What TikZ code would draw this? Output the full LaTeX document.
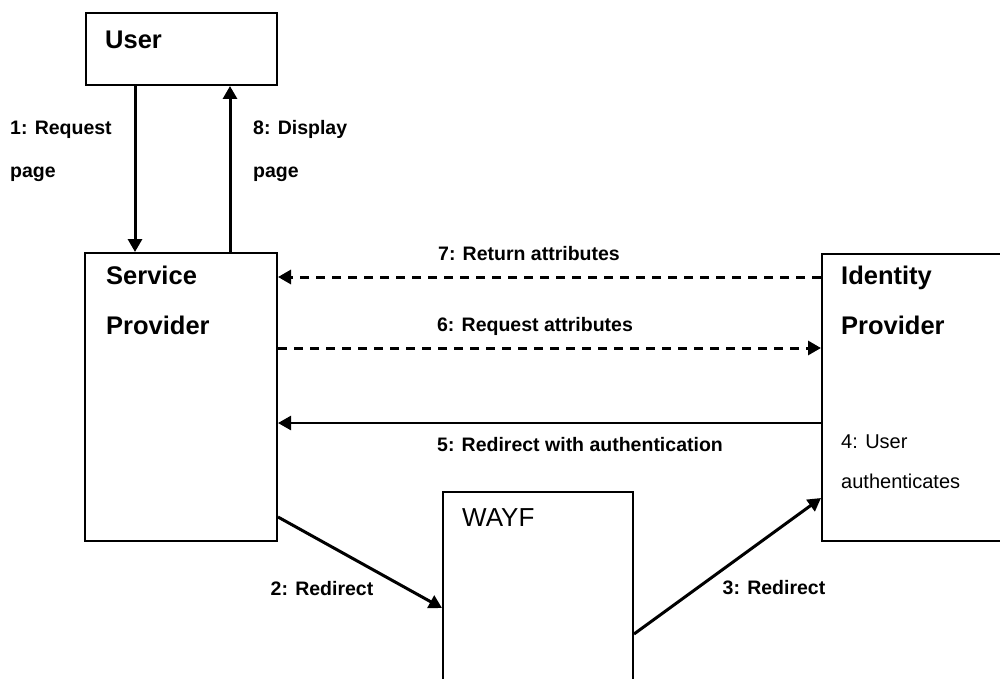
\documentclass[tikz,border=0pt]{standalone}
\usepackage{fontspec}
\setmainfont{Liberation Sans}
\usetikzlibrary{arrows.meta,positioning}

\begin{document}
\begin{tikzpicture}[
  x=1pt, y=-1pt,
  >={Triangle[length=13pt, width=14pt]},
  box/.style   ={draw=black, fill=white, line width=2pt, inner sep=0pt, anchor=north west},
  title/.style ={anchor=west, inner sep=0pt, align=left,
                 font=\fontsize{25.5pt}{50pt}\selectfont\bfseries},
  plain/.style ={anchor=west, inner sep=0pt, align=left,
                 font=\fontsize{20pt}{40pt}\selectfont},
  lbl/.style   ={inner sep=0pt, align=left,
                 font=\fontsize{19.5pt}{43pt}\selectfont\bfseries},
  flow/.style  ={->, draw=black, line width=3pt},
  back/.style  ={->, draw=black, line width=2.5pt},
  call/.style  ={->, draw=black, line width=3pt, dash pattern=on 9pt off 7pt},
]

% ---- page, 1000 x 679 px, boxes cut off at the right and bottom edges ----------
\useasboundingbox (0,0) rectangle (1000,679);
\clip (0,0) rectangle (1000,679);

% ---- the boxes ---------------------------------------------------------------
\node[box, minimum width=191pt, minimum height=72pt]  (user) at (85,12)   {};
\node[box, minimum width=192pt, minimum height=288pt] (sp)   at (84,252)  {};
\node[box, minimum width=200pt, minimum height=287pt] (idp)  at (821,253) {};
\node[box, minimum width=190pt, minimum height=220pt] (wayf) at (442,491) {};

\node[title] (usertxt) at (105,40)  {User};
\node[title] (sptxt)   at (106,300) {Service\\Provider};
\node[title] (idptxt)  at (841,300) {Identity\\Provider};
\node[plain, font=\fontsize{26pt}{30pt}\selectfont] (wayftxt) at (462,518) {WAYF};
\node[plain] (authtxt) at (841,462) {4: User\\authenticates};

% ---- where the connectors meet the boxes --------------------------------------
\coordinate (xreq)  at (135,0);
\coordinate (xdisp) at (230,0);
\coordinate (yret)  at (0,277);
\coordinate (yask)  at (0,348);
\coordinate (yauth) at (0,423);
\coordinate (yout)  at (0,517);
\coordinate (yin)   at (0,608);
\coordinate (ygo)   at (0,634);
\coordinate (yidp)  at (0,498);

\draw[flow] (user.south -| xreq) -- (sp.north -| xreq);
\draw[flow] (sp.north -| xdisp) -- (user.south -| xdisp);
\draw[call] (idp.west |- yret) -- (sp.east |- yret);
\draw[call] (sp.east |- yask) -- (idp.west |- yask);
\draw[back] (idp.west |- yauth) -- (sp.east |- yauth);
\draw[flow] (sp.east |- yout) -- (wayf.west |- yin);
\draw[flow] (wayf.east |- ygo) -- (idp.west |- yidp);

% ---- step labels ----------------------------------------------------------------
\node[lbl, anchor=west] (l1) at (10,151.5)  {1: Request\\page};
\node[lbl, anchor=west] (l8) at (253,151.5) {8: Display\\page};
\node[lbl] (l7) at (529,254) {7: Return attributes};
\node[lbl] (l6) at (535,326) {6: Request attributes};
\node[lbl] (l5) at (580,445) {5: Redirect with authentication};
\node[lbl] (l2) at (322,589) {2: Redirect};
\node[lbl] (l3) at (774,588) {3: Redirect};

\end{tikzpicture}
\end{document}
